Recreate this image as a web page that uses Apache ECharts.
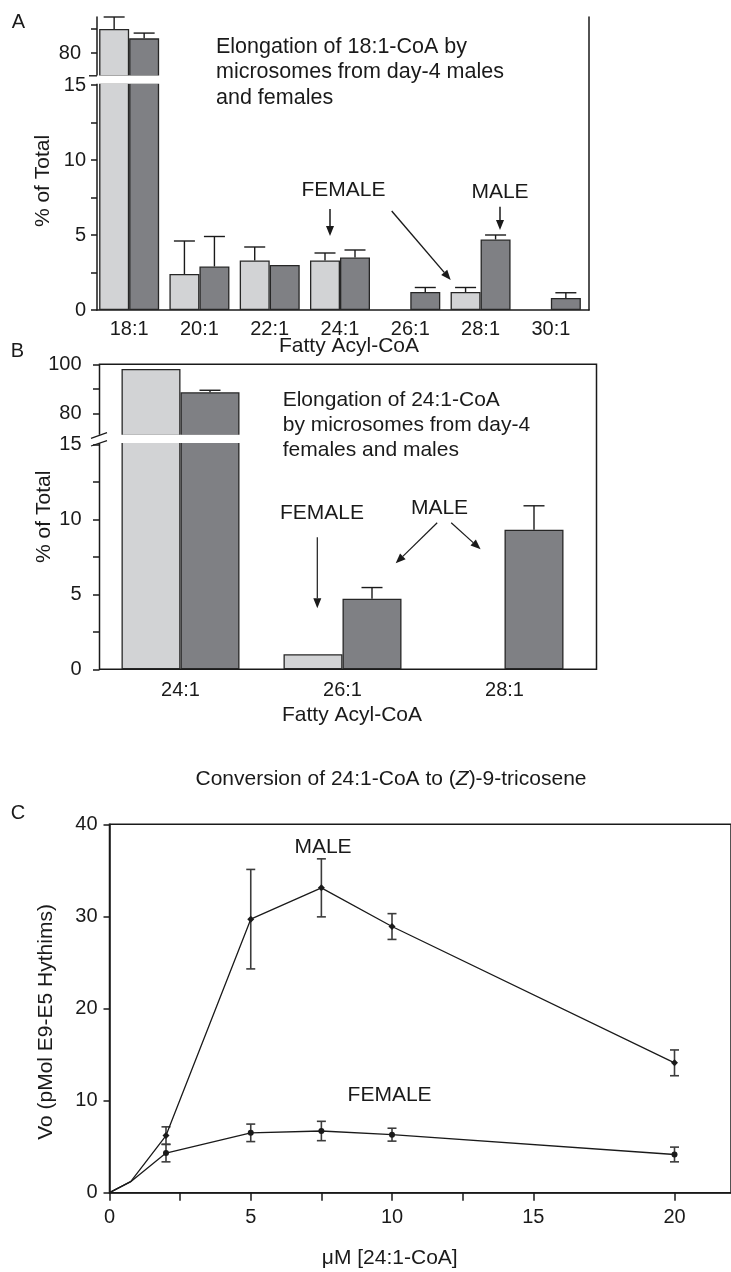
<!DOCTYPE html>
<html>
<head>
<meta charset="utf-8">
<script src="https://cdn.jsdelivr.net/npm/echarts@6/dist/echarts.min.js"></script>
<style>
  html, body { margin: 0; padding: 0; background: #fff; }
  #chart { width: 731px; height: 1272px; }
</style>
</head>
<body>
<div id="chart"></div>
<script>
// ---- Panel A: elongation of 18:1-CoA (% of total) ----
const catsA = ['18:1', '20:1', '22:1', '24:1', '26:1', '28:1', '30:1'];
const femaleA = [90.0, 2.4, 3.3, 3.3, null, 1.2, null];
const femaleErrA = [5.0, 2.2, 0.9, 0.5, null, 0.3, null];
const maleA = [86.1, 2.9, 3.0, 3.5, 1.2, 4.7, 0.8];
const maleErrA = [2.2, 2.0, null, 0.5, 0.3, 0.3, 0.35];

// ---- Panel B: elongation of 24:1-CoA (% of total) ----
const catsB = ['24:1', '26:1', '28:1'];
const femaleB = [98.1, 1.0, null];
const femaleErrB = [null, null, null];
const maleB = [88.6, 4.7, 9.3];
const maleErrB = [0.8, 0.75, 1.6];

// ---- Panel C: conversion rate vs substrate concentration ----
const concC = [0, 0.75, 2, 5, 7.5, 10, 20];
const maleC = [0, 1.2, 6.2, 29.7, 33.1, 28.9, 14.1];
const maleErrC = [null, null, 0.95, 5.4, 3.15, 1.4, 1.4];
const femaleC = [0, 1.2, 4.3, 6.5, 6.7, 6.3, 4.15];
const femaleErrC = [null, null, 0.95, 0.95, 1.05, 0.7, 0.8];
const tickValsC = [0, 2.5, 5, 7.5, 10, 12.5, 15, 20];
const labelValsC = [0, 5, 10, 15, 20];

// tick marks for the broken percentage axes
const lowTicks = [0, 2.5, 5, 7.5, 10, 12.5, 15];
const lowLabels = [0, 5, 10, 15];
const highTicksA = [80, 90];
const highLabelsA = [80];
const highTicksB = [80, 90, 100];
const highLabelsB = [80, 100];

const FONT = '"Liberation Sans", Arial, Helvetica, sans-serif';
const INK = '#1a1a1a';
const FEMALE_FILL = '#d2d3d5';
const MALE_FILL = '#7f8084';
const EDGE = '#262626';

const BAR_W_A = 30;
const BAR_W_B = 59;

const chart = echarts.init(document.getElementById('chart'), null, { renderer: 'canvas' });

// error whisker (upper half only) for paired bars
function barErr(half, cap) {
  return function (params, api) {
    const i = api.value(0), v = api.value(1), e = api.value(2), side = api.value(3);
    const b = api.coord([i, v]);
    const t = api.coord([i, v + e]);
    const x = b[0] + side * half;
    const st = { stroke: INK, lineWidth: 1.4 };
    return {
      type: 'group',
      children: [
        { type: 'line', shape: { x1: x, y1: b[1], x2: x, y2: t[1] }, style: st },
        { type: 'line', shape: { x1: x - cap / 2, y1: t[1], x2: x + cap / 2, y2: t[1] }, style: st }
      ]
    };
  };
}

// symmetric error bar for line points
function pointErr(params, api) {
  const x = api.value(0), y = api.value(1), e = api.value(2);
  const hi = api.coord([x, y + e]);
  const lo = api.coord([x, y - e]);
  const st = { stroke: '#3c3c3c', lineWidth: 1.6 };
  return {
    type: 'group',
    children: [
      { type: 'line', shape: { x1: hi[0], y1: hi[1], x2: lo[0], y2: lo[1] }, style: st },
      { type: 'line', shape: { x1: hi[0] - 4.5, y1: hi[1], x2: hi[0] + 4.5, y2: hi[1] }, style: st },
      { type: 'line', shape: { x1: lo[0] - 4.5, y1: lo[1], x2: lo[0] + 4.5, y2: lo[1] }, style: st }
    ]
  };
}

function errRows(vals, errs, side, keep) {
  const rows = [];
  vals.forEach((v, i) => {
    if (v == null || errs[i] == null) return;
    if (keep(v, errs[i])) rows.push([i, v, errs[i], side]);
  });
  return rows;
}

function lineRows(xs, ys, errs) {
  return xs.map((x, i) => errs[i] == null
    ? { value: [x, ys[i]], symbol: 'none' }
    : { value: [x, ys[i]] });
}

function errPoints(xs, ys, errs) {
  return xs.map((x, i) => [x, ys[i], errs[i]]).filter(r => r[2] != null);
}

const tickLabel = { fontFamily: FONT, fontSize: 20, color: INK };
const axisLineStyle = { lineStyle: { color: INK, width: 1.5 } };

function bar(name, data, xi, yi, fill, w) {
  return {
    name, type: 'bar', xAxisIndex: xi, yAxisIndex: yi, data,
    barWidth: w, barGap: '0%',
    itemStyle: { color: fill, borderColor: EDGE, borderWidth: 1.3 },
    clip: true, z: 2
  };
}

function brokenAxis(gridIndex, min, max, ticks, labels, offset, margin, tickLen) {
  return {
    type: 'value', gridIndex, min, max, offset,
    axisLine: { show: false },
    axisTick: { show: true, length: tickLen, customValues: ticks, lineStyle: { color: INK, width: 1.5 } },
    axisLabel: Object.assign({ margin, customValues: labels }, tickLabel),
    splitLine: { show: false }
  };
}

// arrow built from a shaft and a filled head
function arrow(x1, y1, x2, y2, lw) {
  const len = Math.hypot(x2 - x1, y2 - y1);
  const ux = (x2 - x1) / len, uy = (y2 - y1) / len;
  const hl = 10, hw = 4;
  const bx = x2 - ux * hl, by = y2 - uy * hl;
  return [
    { type: 'line', z: 100, shape: { x1, y1, x2: bx, y2: by }, style: { stroke: INK, lineWidth: lw } },
    { type: 'polygon', z: 100, shape: { points: [[x2, y2], [bx - uy * hw, by + ux * hw], [bx + uy * hw, by - ux * hw]] }, style: { fill: INK } }
  ];
}

function text(x, y, str, opts) {
  return {
    type: 'text', x, y, z: 100,
    style: Object.assign({
      text: str, fontFamily: FONT, fontSize: 21, fill: INK,
      align: 'center', verticalAlign: 'middle'
    }, opts || {})
  };
}

const option = {
  animation: false,
  backgroundColor: '#fff',
  grid: [
    { left: 94, top: 17, width: 492, height: 59 },            // 0 A upper segment
    { left: 94, top: 83, width: 492, height: 227 },           // 1 A lower segment
    { left: 97, top: 17, width: 492, height: 293 },           // 2 A frame
    { left: 99.5, top: 364.3, width: 486, height: 71.2 },     // 3 B upper segment
    { left: 99.5, top: 442.3, width: 486, height: 227 },      // 4 B lower segment
    { left: 99.5, top: 364.3, width: 497, height: 305, show: true, borderColor: INK, borderWidth: 1.5 }, // 5 B frame
    { left: 109.5, top: 824.3, width: 626, height: 368.4, show: true, borderColor: INK, borderWidth: 1.5 } // 6 C
  ],
  xAxis: [
    { type: 'category', gridIndex: 0, data: catsA, show: false },
    { type: 'category', gridIndex: 1, data: catsA,
      axisLine: { show: false }, axisTick: { show: false },
      axisLabel: Object.assign({ margin: 9 }, tickLabel) },
    { type: 'value', gridIndex: 2, min: 0, max: 1,
      axisLine: axisLineStyle, axisTick: { show: false }, axisLabel: { show: false }, splitLine: { show: false },
      name: 'Fatty Acyl-CoA', nameLocation: 'middle', nameGap: 26,
      nameTextStyle: { fontFamily: FONT, fontSize: 21, color: INK, padding: [0, 0, 0, 12] } },
    { type: 'category', gridIndex: 3, data: catsB, show: false },
    { type: 'category', gridIndex: 4, data: catsB,
      axisLine: { show: false }, axisTick: { show: false },
      axisLabel: Object.assign({ margin: 11 }, tickLabel) },
    { type: 'value', gridIndex: 5, min: 0, max: 1,
      axisLine: { show: false }, axisTick: { show: false }, axisLabel: { show: false }, splitLine: { show: false },
      name: 'Fatty Acyl-CoA', nameLocation: 'middle', nameGap: 35,
      nameTextStyle: { fontFamily: FONT, fontSize: 21, color: INK, padding: [0, 0, 0, 8] } },
    { type: 'value', gridIndex: 6, min: 0, max: 22, interval: 5,
      axisLine: axisLineStyle,
      axisTick: { show: true, inside: false, length: 8, customValues: tickValsC, lineStyle: { color: INK, width: 1.5 } },
      axisLabel: Object.assign({ margin: 15, customValues: labelValsC }, tickLabel),
      splitLine: { show: false },
      name: 'μM [24:1-CoA]', nameLocation: 'middle', nameGap: 55,
      nameTextStyle: { fontFamily: FONT, fontSize: 21, color: INK, padding: [0, 61, 0, 0] } }
  ],
  yAxis: [
    brokenAxis(0, 70.42, 95, highTicksA, highLabelsA, -3, 16, 6),
    brokenAxis(1, 0, 15.1333, lowTicks, lowLabels, -3, 11, 6),
    { type: 'value', gridIndex: 2, min: 0, max: 1,
      axisLine: axisLineStyle, axisTick: { show: false }, axisLabel: { show: false }, splitLine: { show: false },
      name: '% of Total', nameLocation: 'middle', nameGap: 43,
      nameTextStyle: { fontFamily: FONT, fontSize: 21, color: INK, padding: [0, 35, 0, 0] } },
    { type: 'value', gridIndex: 2, position: 'right', min: 0, max: 1,
      axisLine: axisLineStyle, axisTick: { show: false }, axisLabel: { show: false }, splitLine: { show: false } },
    brokenAxis(3, 70.94, 100, highTicksB, highLabelsB, 0, 18, 6.5),
    brokenAxis(4, 0, 15.1333, lowTicks, lowLabels, 0, 18, 6.5),
    { type: 'value', gridIndex: 5, min: 0, max: 1,
      axisLine: { show: false }, axisTick: { show: false }, axisLabel: { show: false }, splitLine: { show: false },
      name: '% of Total', nameLocation: 'middle', nameGap: 45,
      nameTextStyle: { fontFamily: FONT, fontSize: 21, color: INK } },
    { type: 'value', gridIndex: 6, min: 0, max: 40, interval: 10,
      axisLine: axisLineStyle,
      axisTick: { show: true, length: 6, lineStyle: { color: INK, width: 1.5 } },
      axisLabel: Object.assign({ margin: 12 }, tickLabel),
      splitLine: { show: false },
      name: 'Vo (pMol E9-E5 Hythims)', nameLocation: 'middle', nameGap: 53,
      nameTextStyle: { fontFamily: FONT, fontSize: 21, color: INK, padding: [0, 27, 0, 0] } }
  ],
  series: [
    // A, upper segment
    bar('Female', femaleA, 0, 0, FEMALE_FILL, BAR_W_A),
    bar('Male', maleA, 0, 0, MALE_FILL, BAR_W_A),
    { type: 'custom', xAxisIndex: 0, yAxisIndex: 0, z: 3,
      renderItem: barErr(BAR_W_A / 2, 21),
      data: errRows(femaleA, femaleErrA, -1, v => v >= 70).concat(errRows(maleA, maleErrA, 1, v => v >= 70)) },
    // A, lower segment
    bar('Female', femaleA, 1, 1, FEMALE_FILL, BAR_W_A),
    bar('Male', maleA, 1, 1, MALE_FILL, BAR_W_A),
    { type: 'custom', xAxisIndex: 1, yAxisIndex: 1, z: 3,
      renderItem: barErr(BAR_W_A / 2, 21),
      data: errRows(femaleA, femaleErrA, -1, (v, e) => v + e <= 15).concat(errRows(maleA, maleErrA, 1, (v, e) => v + e <= 15)) },
    // B, upper segment
    bar('Female', femaleB, 3, 4, FEMALE_FILL, BAR_W_B),
    bar('Male', maleB, 3, 4, MALE_FILL, BAR_W_B),
    { type: 'custom', xAxisIndex: 3, yAxisIndex: 4, z: 3,
      renderItem: barErr(BAR_W_B / 2, 21),
      data: errRows(femaleB, femaleErrB, -1, v => v >= 70).concat(errRows(maleB, maleErrB, 1, v => v >= 70)) },
    // B, lower segment
    bar('Female', femaleB, 4, 5, FEMALE_FILL, BAR_W_B),
    bar('Male', maleB, 4, 5, MALE_FILL, BAR_W_B),
    { type: 'custom', xAxisIndex: 4, yAxisIndex: 5, z: 3,
      renderItem: barErr(BAR_W_B / 2, 21),
      data: errRows(femaleB, femaleErrB, -1, (v, e) => v + e <= 15).concat(errRows(maleB, maleErrB, 1, (v, e) => v + e <= 15)) },
    // C, rate curves
    { name: 'Male', type: 'line', xAxisIndex: 6, yAxisIndex: 7,
      data: lineRows(concC, maleC, maleErrC),
      symbol: 'diamond', symbolSize: 7, showAllSymbol: true,
      lineStyle: { color: INK, width: 1.3 }, itemStyle: { color: INK }, z: 4 },
    { name: 'Female', type: 'line', xAxisIndex: 6, yAxisIndex: 7,
      data: lineRows(concC, femaleC, femaleErrC),
      symbol: 'circle', symbolSize: 6, showAllSymbol: true,
      lineStyle: { color: INK, width: 1.3 }, itemStyle: { color: INK }, z: 4 },
    { type: 'custom', xAxisIndex: 6, yAxisIndex: 7, z: 3, renderItem: pointErr,
      data: errPoints(concC, maleC, maleErrC) },
    { type: 'custom', xAxisIndex: 6, yAxisIndex: 7, z: 3, renderItem: pointErr,
      data: errPoints(concC, femaleC, femaleErrC) }
  ],
  graphic: { elements: [
    // axis breaks
    { type: 'rect', z: 90, shape: { x: 95, y: 75.4, width: 69, height: 8.4 }, style: { fill: '#fff' } },
    { type: 'line', z: 100, shape: { x1: 89, y1: 75.8, x2: 97, y2: 75.8 }, style: { stroke: INK, lineWidth: 1.4 } },
    { type: 'rect', z: 90, shape: { x: 96, y: 434.8, width: 147, height: 8.2 }, style: { fill: '#fff' } },
    { type: 'line', z: 100, shape: { x1: 91, y1: 438.3, x2: 107, y2: 432.7 }, style: { stroke: INK, lineWidth: 1.3 } },
    { type: 'line', z: 100, shape: { x1: 91, y1: 446, x2: 107, y2: 440.7 }, style: { stroke: INK, lineWidth: 1.3 } },
    // panel letters
    text(18.5, 22.5, 'A', { fontSize: 20 }),
    text(17.5, 351.5, 'B', { fontSize: 20 }),
    text(18, 813.5, 'C', { fontSize: 20 }),
    // panel A notes
    text(216, 34, 'Elongation of 18:1-CoA by\nmicrosomes from day-4 males\nand females',
      { align: 'left', verticalAlign: 'top', lineHeight: 25.5, fontSize: 21.5 }),
    text(343.5, 190.5, 'FEMALE'),
    text(500, 192.3, 'MALE'),
    ...arrow(330, 209, 330, 236, 1.5),
    ...arrow(391.7, 211, 450.7, 280, 1.4),
    ...arrow(500, 206.7, 500, 230, 1.5),
    // panel B notes
    text(282.7, 388, 'Elongation of 24:1-CoA\nby microsomes from day-4\nfemales and males',
      { align: 'left', verticalAlign: 'top', lineHeight: 25 }),
    text(322, 513.3, 'FEMALE'),
    text(439.5, 508, 'MALE'),
    ...arrow(317.3, 537.3, 317.3, 608.3, 1.2),
    ...arrow(437.2, 522.7, 395.7, 563.3, 1.2),
    ...arrow(451.2, 522.7, 480.6, 549.3, 1.2),
    // panel C notes
    text(391, 779, 'Conversion of 24:1-CoA to ({i|Z})-9-tricosene',
      { rich: { i: { fontStyle: 'italic', fontFamily: FONT, fontSize: 21, fill: INK } } }),
    text(323, 847, 'MALE'),
    text(389.6, 1095, 'FEMALE')
  ] }
};

chart.setOption(option);
</script>
</body>
</html>
